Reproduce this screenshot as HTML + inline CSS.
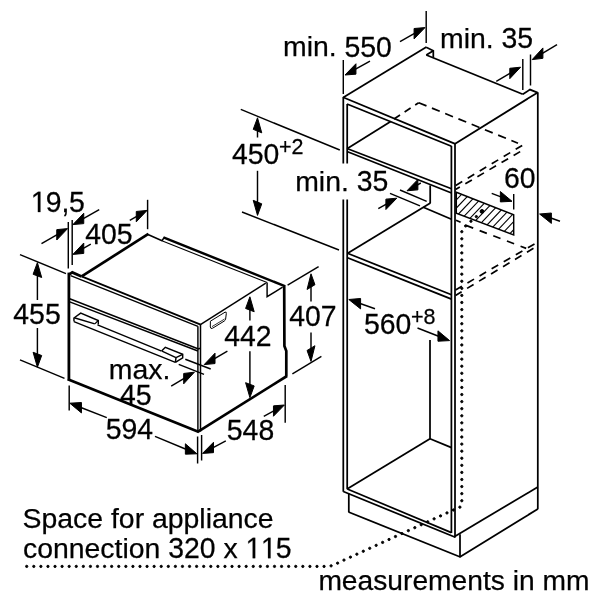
<!DOCTYPE html>
<html><head><meta charset="utf-8"><style>
html,body{margin:0;padding:0;background:#fff;}
svg{display:block;filter:grayscale(1);}
text{white-space:pre;font-family:"Liberation Sans",sans-serif;fill:#000;stroke:#000;stroke-width:0.25px;}
</style></head><body>
<svg width="600" height="600" viewBox="0 0 600 600">
<rect width="600" height="600" fill="#fff"/>
<g opacity="0.999"><path transform="translate(30.75,212.10) scale(0.01387,-0.01444)" d="M515 0V1237L197 1010V1180L530 1409H696V0Z" fill="#000" stroke="#000" stroke-width="0.25" vector-effect="non-scaling-stroke"/><text transform="translate(45.78,212.10) scale(1,1.041)" font-size="28.4">9</text><text transform="translate(61.58,212.10) scale(1,1.041)" font-size="28.4">,</text><text transform="translate(69.00,212.10) scale(1,1.041)" font-size="28.4">5</text><text transform="translate(85.20,243.80) scale(1,1.041)" font-size="28.4">4</text><text transform="translate(100.98,243.80) scale(1,1.041)" font-size="28.4">0</text><text transform="translate(116.78,243.80) scale(1,1.041)" font-size="28.4">5</text><text transform="translate(13.30,324.00) scale(1,1.041)" font-size="28.4">4</text><text transform="translate(29.08,324.00) scale(1,1.041)" font-size="28.4">5</text><text transform="translate(44.88,324.00) scale(1,1.041)" font-size="28.4">5</text><text transform="translate(289.20,325.60) scale(1,1.041)" font-size="28.4">4</text><text transform="translate(304.98,325.60) scale(1,1.041)" font-size="28.4">0</text><text transform="translate(320.78,325.60) scale(1,1.041)" font-size="28.4">7</text><text transform="translate(224.20,345.50) scale(1,1.041)" font-size="28.4">4</text><text transform="translate(239.98,345.50) scale(1,1.041)" font-size="28.4">4</text><text transform="translate(255.78,345.50) scale(1,1.041)" font-size="28.4">2</text><text x="108.75" y="378.70" font-size="28.4">max.</text><text transform="translate(120.00,404.50) scale(1,1.041)" font-size="28.4">4</text><text transform="translate(135.78,404.50) scale(1,1.041)" font-size="28.4">5</text><text transform="translate(105.75,439.00) scale(1,1.041)" font-size="28.4">5</text><text transform="translate(121.53,439.00) scale(1,1.041)" font-size="28.4">9</text><text transform="translate(137.33,439.00) scale(1,1.041)" font-size="28.4">4</text><text transform="translate(226.80,440.20) scale(1,1.041)" font-size="28.4">5</text><text transform="translate(242.58,440.20) scale(1,1.041)" font-size="28.4">4</text><text transform="translate(258.38,440.20) scale(1,1.041)" font-size="28.4">8</text><text x="283.00" y="56.40" font-size="28.4">min.</text><text transform="translate(344.54,56.50) scale(1,1.041)" font-size="28.4">5</text><text transform="translate(360.32,56.50) scale(1,1.041)" font-size="28.4">5</text><text transform="translate(376.12,56.50) scale(1,1.041)" font-size="28.4">0</text><text x="440.00" y="47.50" font-size="28.4">min.</text><text transform="translate(501.54,47.50) scale(1,1.041)" font-size="28.4">3</text><text transform="translate(517.32,47.50) scale(1,1.041)" font-size="28.4">5</text><text transform="translate(232.00,163.50) scale(1,1.041)" font-size="28.4">4</text><text transform="translate(247.78,163.50) scale(1,1.041)" font-size="28.4">5</text><text transform="translate(263.58,163.50) scale(1,1.041)" font-size="28.4">0</text><text x="295.20" y="191.30" font-size="28.4">min.</text><text transform="translate(356.74,191.30) scale(1,1.041)" font-size="28.4">3</text><text transform="translate(372.52,191.30) scale(1,1.041)" font-size="28.4">5</text><text transform="translate(504.00,188.00) scale(1,1.041)" font-size="28.4">6</text><text transform="translate(519.78,188.00) scale(1,1.041)" font-size="28.4">0</text><text transform="translate(364.00,333.50) scale(1,1.041)" font-size="28.4">5</text><text transform="translate(379.78,333.50) scale(1,1.041)" font-size="28.4">6</text><text transform="translate(395.58,333.50) scale(1,1.041)" font-size="28.4">0</text><text transform="translate(279.00,153.70) scale(1,1.041)" font-size="21.5">+</text><text transform="translate(291.55,153.70) scale(1,1.041)" font-size="21.5">2</text><text transform="translate(411.00,324.30) scale(1,1.041)" font-size="21.5">+</text><text transform="translate(423.55,324.30) scale(1,1.041)" font-size="21.5">8</text><text x="22.60" y="528.10" font-size="28.4">Space for appliance</text><text x="23.00" y="558.20" font-size="28.4">connection </text><text transform="translate(168.20,558.20) scale(1,1.041)" font-size="28.4">3</text><text transform="translate(184.00,558.20) scale(1,1.041)" font-size="28.4">2</text><text transform="translate(199.78,558.20) scale(1,1.041)" font-size="28.4">0</text><text x="215.58" y="558.20" font-size="28.4"> x </text><path transform="translate(245.55,558.20) scale(0.01387,-0.01444)" d="M515 0V1237L197 1010V1180L530 1409H696V0Z" fill="#000" stroke="#000" stroke-width="0.25" vector-effect="non-scaling-stroke"/><path transform="translate(260.88,558.20) scale(0.01387,-0.01444)" d="M515 0V1237L197 1010V1180L530 1409H696V0Z" fill="#000" stroke="#000" stroke-width="0.25" vector-effect="non-scaling-stroke"/><text transform="translate(275.82,558.20) scale(1,1.041)" font-size="28.4">5</text><text x="318.40" y="589.60" font-size="28.2">measurements in mm</text></g>
<g stroke="#000" fill="#000" stroke-linecap="butt">
<line x1="68.90" y1="272.60" x2="68.90" y2="380.50" stroke-width="2.8"/>
<line x1="67.80" y1="379.30" x2="198.30" y2="431.80" stroke-width="2.7"/>
<polyline points="68.40,275.00 72.30,272.40 81.60,276.40" fill="none" stroke-width="2.7"/>
<line x1="81.60" y1="276.40" x2="200.60" y2="324.60" stroke-width="1.7"/>
<line x1="70.60" y1="275.60" x2="197.90" y2="326.40" stroke-width="1.45"/>
<line x1="197.90" y1="326.20" x2="197.90" y2="431.50" stroke-width="1.45"/>
<line x1="200.50" y1="324.20" x2="200.50" y2="431.50" stroke-width="1.5"/>
<line x1="69.70" y1="298.70" x2="197.90" y2="348.80" stroke-width="1.45"/>
<line x1="69.70" y1="301.90" x2="197.90" y2="351.00" stroke-width="1.45"/>
<polyline points="197.90,349.00 200.50,348.20" fill="none" stroke-width="1.45"/>
<line x1="200.40" y1="324.60" x2="265.80" y2="283.20" stroke-width="1.45"/>
<polyline points="267.10,282.40 267.10,296.70 282.60,287.10" fill="none" stroke-width="1.45"/>
<polyline points="284.20,285.00 284.40,346.00 286.30,351.00 286.30,376.50" fill="none" stroke-width="2.7"/>
<line x1="287.00" y1="376.00" x2="197.30" y2="432.20" stroke-width="2.7"/>
<path d="M210.4,321.2 L225.0,312.2 Q226.6,311.4 226.3,313.6 L225.6,319.2 Q225.3,320.4 224.2,321.1 L212.6,328.2 Q210.6,329.3 210.3,327.0 Z" fill="none" stroke-width="1.0"/>
<line x1="212.00" y1="326.60" x2="224.60" y2="319.00" stroke-width="0.8"/>
<line x1="81.60" y1="276.40" x2="148.40" y2="233.90" stroke-width="2.7"/>
<polyline points="147.40,234.30 162.00,240.80 164.00,237.60" fill="none" stroke-width="1.6"/>
<line x1="163.40" y1="237.30" x2="284.80" y2="286.20" stroke-width="2.5"/>
<line x1="162.50" y1="241.10" x2="267.10" y2="282.60" stroke-width="1.1"/>
<polyline points="74.00,321.60 73.90,318.00 80.70,313.10 98.30,320.50 98.30,324.60" fill="none" stroke-width="1.45"/>
<line x1="74.20" y1="317.70" x2="94.80" y2="323.90" stroke-width="1.45"/>
<polyline points="94.80,323.90 98.30,320.50" fill="none" stroke-width="1.2"/>
<line x1="97.50" y1="324.90" x2="161.60" y2="351.10" stroke-width="1.45"/>
<line x1="73.90" y1="321.60" x2="175.40" y2="362.40" stroke-width="1.45"/>
<polyline points="161.60,351.10 165.30,347.30 182.70,354.30 182.70,357.90 175.40,362.40" fill="none" stroke-width="1.45"/>
<line x1="162.00" y1="351.20" x2="176.00" y2="357.70" stroke-width="1.45"/>
<line x1="176.00" y1="357.70" x2="182.70" y2="354.30" stroke-width="1.45"/>
<line x1="176.00" y1="357.70" x2="175.40" y2="362.40" stroke-width="1.45"/>
<line x1="68.30" y1="222.00" x2="68.30" y2="268.50" stroke-width="1.45"/>
<line x1="72.20" y1="220.00" x2="72.20" y2="265.00" stroke-width="1.45"/>
<line x1="41.50" y1="243.60" x2="58.50" y2="233.83" stroke-width="1.45"/>
<polygon points="67.60,228.60 56.76,240.03 56.76,229.63"/>
<line x1="99.20" y1="209.60" x2="82.02" y2="219.40" stroke-width="1.45"/>
<polygon points="72.90,224.60 83.76,223.61 83.76,213.21"/>
<line x1="90.80" y1="244.20" x2="82.02" y2="249.20" stroke-width="1.45"/>
<polygon points="72.90,254.40 83.76,253.41 83.76,243.01"/>
<line x1="129.80" y1="220.40" x2="138.01" y2="215.65" stroke-width="1.45"/>
<polygon points="147.10,210.40 136.28,221.86 136.28,211.46"/>
<line x1="147.60" y1="199.80" x2="147.60" y2="229.20" stroke-width="1.45"/>
<line x1="20.00" y1="254.60" x2="66.00" y2="273.60" stroke-width="1.45"/>
<line x1="20.00" y1="359.80" x2="64.50" y2="378.40" stroke-width="1.45"/>
<line x1="37.40" y1="300.00" x2="37.40" y2="273.90" stroke-width="1.45"/>
<polygon points="37.40,262.60 41.70,277.53 33.10,274.27"/>
<line x1="37.40" y1="328.00" x2="37.40" y2="355.90" stroke-width="1.45"/>
<polygon points="37.40,367.20 41.70,355.53 33.10,352.27"/>
<line x1="69.20" y1="385.50" x2="69.20" y2="410.50" stroke-width="1.45"/>
<line x1="197.60" y1="436.50" x2="197.60" y2="463.50" stroke-width="1.45"/>
<line x1="201.60" y1="435.00" x2="201.60" y2="460.50" stroke-width="1.45"/>
<line x1="106.80" y1="417.60" x2="79.59" y2="407.01" stroke-width="1.45"/>
<polygon points="69.80,403.20 81.45,412.93 81.45,402.53"/>
<line x1="155.00" y1="436.30" x2="187.21" y2="449.75" stroke-width="1.45"/>
<polygon points="196.90,453.80 185.37,454.18 185.37,443.78"/>
<line x1="225.80" y1="440.80" x2="211.74" y2="448.41" stroke-width="1.45"/>
<polygon points="202.50,453.40 213.50,452.65 213.50,442.25"/>
<line x1="263.80" y1="416.40" x2="275.21" y2="410.08" stroke-width="1.45"/>
<polygon points="284.40,405.00 273.46,416.25 273.46,405.85"/>
<line x1="285.20" y1="385.00" x2="285.20" y2="422.80" stroke-width="1.45"/>
<line x1="249.90" y1="320.50" x2="249.90" y2="308.10" stroke-width="1.45"/>
<polygon points="249.90,296.80 254.20,311.73 245.60,308.47"/>
<line x1="249.90" y1="351.20" x2="249.90" y2="386.30" stroke-width="1.45"/>
<polygon points="249.90,397.60 254.20,385.93 245.60,382.67"/>
<line x1="287.60" y1="285.20" x2="318.60" y2="266.60" stroke-width="1.45"/>
<line x1="292.40" y1="373.80" x2="321.40" y2="356.40" stroke-width="1.45"/>
<line x1="311.00" y1="301.50" x2="311.00" y2="285.10" stroke-width="1.45"/>
<polygon points="311.00,273.80 314.94,284.73 307.06,289.47"/>
<line x1="311.00" y1="332.50" x2="311.00" y2="350.10" stroke-width="1.45"/>
<polygon points="311.00,361.40 314.94,345.73 307.06,350.47"/>
<line x1="185.30" y1="359.30" x2="210.70" y2="369.00" stroke-width="1.45"/>
<line x1="178.70" y1="364.30" x2="204.00" y2="374.40" stroke-width="1.45"/>
<line x1="227.40" y1="351.20" x2="213.29" y2="359.35" stroke-width="1.45"/>
<polygon points="204.20,364.60 215.02,363.55 215.02,353.15"/>
<line x1="171.20" y1="386.20" x2="185.41" y2="377.62" stroke-width="1.45"/>
<polygon points="194.40,372.20 183.70,383.86 183.70,373.46"/>
<line x1="343.30" y1="97.00" x2="343.30" y2="163.50" stroke-width="1.75"/>
<line x1="343.30" y1="199.50" x2="343.30" y2="491.80" stroke-width="1.75"/>
<line x1="347.20" y1="104.00" x2="347.20" y2="163.50" stroke-width="1.75"/>
<line x1="347.20" y1="199.50" x2="347.20" y2="489.20" stroke-width="1.75"/>
<line x1="455.00" y1="143.30" x2="455.00" y2="537.60" stroke-width="1.75"/>
<line x1="451.40" y1="146.00" x2="451.40" y2="533.00" stroke-width="1.75"/>
<line x1="343.00" y1="97.30" x2="455.20" y2="143.90" stroke-width="1.75"/>
<line x1="347.00" y1="104.00" x2="451.50" y2="146.20" stroke-width="1.75"/>
<line x1="343.20" y1="97.60" x2="426.40" y2="47.10" stroke-width="1.75"/>
<polyline points="426.20,47.30 433.30,50.70 433.30,57.80" fill="none" stroke-width="1.75"/>
<line x1="433.30" y1="50.70" x2="426.30" y2="55.00" stroke-width="1.75"/>
<line x1="426.30" y1="55.00" x2="522.80" y2="94.20" stroke-width="1.75"/>
<polyline points="522.80,94.20 530.00,89.60 537.50,92.60" fill="none" stroke-width="1.75"/>
<line x1="537.80" y1="92.30" x2="537.80" y2="509.20" stroke-width="1.75"/>
<line x1="537.80" y1="92.40" x2="454.70" y2="143.90" stroke-width="1.75"/>
<line x1="347.00" y1="148.50" x2="451.50" y2="188.80" stroke-width="1.75"/>
<line x1="347.00" y1="151.50" x2="451.50" y2="193.00" stroke-width="1.75"/>
<line x1="347.00" y1="148.70" x2="390.70" y2="121.60" stroke-width="1.75"/>
<line x1="394.00" y1="119.00" x2="418.70" y2="102.70" stroke-width="1.7" stroke-dasharray="7.2,5.5" stroke-dashoffset="0"/>
<line x1="418.70" y1="102.70" x2="518.00" y2="143.20" stroke-width="1.7" stroke-dasharray="8.4,5.9" stroke-dashoffset="0"/>
<line x1="522.20" y1="145.40" x2="455.50" y2="185.60" stroke-width="1.7" stroke-dasharray="7.6,6.4" stroke-dashoffset="0"/>
<line x1="521.20" y1="151.00" x2="455.50" y2="189.60" stroke-width="1.7" stroke-dasharray="7.6,6.4" stroke-dashoffset="-1.2"/>
<line x1="430.20" y1="185.40" x2="430.20" y2="203.30" stroke-width="1.75"/>
<line x1="430.40" y1="203.00" x2="347.70" y2="253.20" stroke-width="1.75"/>
<line x1="423.30" y1="207.20" x2="451.50" y2="219.30" stroke-width="1.75"/>
<line x1="347.50" y1="253.30" x2="451.50" y2="294.80" stroke-width="1.75"/>
<line x1="347.50" y1="257.70" x2="451.50" y2="299.10" stroke-width="1.75"/>
<line x1="400.00" y1="190.00" x2="426.70" y2="201.30" stroke-width="1.45"/>
<line x1="390.00" y1="193.30" x2="420.00" y2="205.80" stroke-width="1.45"/>
<line x1="420.80" y1="183.00" x2="416.14" y2="185.63" stroke-width="1.45"/>
<polygon points="407.00,190.80 417.88,189.85 417.88,179.45"/>
<line x1="378.30" y1="208.60" x2="387.65" y2="203.35" stroke-width="1.45"/>
<polygon points="396.80,198.20 385.90,209.53 385.90,199.13"/>
<clipPath id="hc"><polygon points="456.3,192.3 513.7,214.7 513.7,235.0 456.3,213.3"/></clipPath>
<g clip-path="url(#hc)" stroke-width="1.1"><line x1="363.50" y1="240" x2="411.12" y2="190"/><line x1="371.30" y1="240" x2="418.92" y2="190"/><line x1="379.10" y1="240" x2="426.72" y2="190"/><line x1="386.90" y1="240" x2="434.52" y2="190"/><line x1="394.70" y1="240" x2="442.32" y2="190"/><line x1="402.50" y1="240" x2="450.12" y2="190"/><line x1="410.30" y1="240" x2="457.92" y2="190"/><line x1="418.10" y1="240" x2="465.72" y2="190"/><line x1="425.90" y1="240" x2="473.52" y2="190"/><line x1="433.70" y1="240" x2="481.32" y2="190"/><line x1="441.50" y1="240" x2="489.12" y2="190"/><line x1="449.30" y1="240" x2="496.92" y2="190"/><line x1="457.10" y1="240" x2="504.72" y2="190"/><line x1="464.90" y1="240" x2="512.52" y2="190"/><line x1="472.70" y1="240" x2="520.32" y2="190"/><line x1="480.50" y1="240" x2="528.12" y2="190"/><line x1="488.30" y1="240" x2="535.92" y2="190"/><line x1="496.10" y1="240" x2="543.72" y2="190"/><line x1="503.90" y1="240" x2="551.52" y2="190"/><line x1="511.70" y1="240" x2="559.32" y2="190"/><line x1="519.50" y1="240" x2="567.12" y2="190"/><line x1="527.30" y1="240" x2="574.92" y2="190"/><line x1="535.10" y1="240" x2="582.72" y2="190"/><line x1="542.90" y1="240" x2="590.52" y2="190"/><line x1="550.70" y1="240" x2="598.32" y2="190"/><line x1="558.50" y1="240" x2="606.12" y2="190"/><line x1="566.30" y1="240" x2="613.92" y2="190"/><line x1="574.10" y1="240" x2="621.72" y2="190"/><line x1="581.90" y1="240" x2="629.52" y2="190"/><line x1="589.70" y1="240" x2="637.32" y2="190"/></g>
<polygon points="456.3,192.3 513.7,214.7 513.7,235.0 456.3,213.3" fill="none" stroke-width="1.45"/>
<line x1="513.70" y1="194.00" x2="513.70" y2="209.50" stroke-width="1.45"/>
<line x1="491.70" y1="193.30" x2="502.23" y2="197.45" stroke-width="1.45"/>
<polygon points="512.00,201.30 500.37,201.92 500.37,191.52"/>
<line x1="560.00" y1="221.30" x2="549.49" y2="217.54" stroke-width="1.45"/>
<polygon points="539.60,214.00 551.37,223.41 551.37,213.01"/>
<line x1="466.00" y1="225.40" x2="526.20" y2="248.40" stroke-width="1.7" stroke-dasharray="7.7,6.9" stroke-dashoffset="0"/>
<line x1="534.50" y1="243.90" x2="455.50" y2="289.90" stroke-width="1.7" stroke-dasharray="7.6,6.4" stroke-dashoffset="0"/>
<line x1="534.50" y1="247.60" x2="455.50" y2="295.40" stroke-width="1.7" stroke-dasharray="7.6,6.4" stroke-dashoffset="-1.2"/>
<line x1="456.00" y1="220.30" x2="461.00" y2="222.40" stroke-width="1.7" stroke-dasharray="5,10" stroke-dashoffset="0"/>
<line x1="430.00" y1="340.00" x2="430.00" y2="439.00" stroke-width="1.75"/>
<line x1="347.50" y1="488.80" x2="430.00" y2="438.80" stroke-width="1.75"/>
<line x1="430.00" y1="438.80" x2="451.50" y2="447.60" stroke-width="1.75"/>
<line x1="343.30" y1="491.50" x2="455.30" y2="537.30" stroke-width="1.75"/>
<line x1="347.30" y1="489.00" x2="451.40" y2="532.60" stroke-width="1.75"/>
<line x1="348.80" y1="493.50" x2="348.80" y2="512.20" stroke-width="1.75"/>
<line x1="348.50" y1="512.00" x2="460.30" y2="557.00" stroke-width="1.75"/>
<line x1="460.00" y1="534.20" x2="460.00" y2="557.20" stroke-width="1.75"/>
<line x1="459.80" y1="557.00" x2="537.80" y2="509.00" stroke-width="1.75"/>
<line x1="454.70" y1="536.40" x2="537.80" y2="487.00" stroke-width="1.75"/>
<line x1="375.00" y1="308.80" x2="358.70" y2="303.01" stroke-width="1.45"/>
<polygon points="348.80,299.50 360.58,308.88 360.58,298.48"/>
<line x1="417.50" y1="328.00" x2="439.83" y2="336.76" stroke-width="1.45"/>
<polygon points="449.60,340.60 437.96,341.23 437.96,330.83"/>
<line x1="343.30" y1="60.00" x2="343.30" y2="94.00" stroke-width="1.45"/>
<line x1="370.00" y1="61.20" x2="354.19" y2="69.93" stroke-width="1.45"/>
<polygon points="345.00,75.00 355.94,74.16 355.94,63.76"/>
<line x1="400.00" y1="41.60" x2="415.84" y2="32.73" stroke-width="1.45"/>
<polygon points="425.00,27.60 414.09,38.91 414.09,28.51"/>
<line x1="426.20" y1="11.00" x2="426.20" y2="43.00" stroke-width="1.45"/>
<line x1="522.80" y1="59.00" x2="522.80" y2="90.00" stroke-width="1.45"/>
<line x1="530.50" y1="54.50" x2="530.50" y2="85.50" stroke-width="1.45"/>
<line x1="496.30" y1="81.30" x2="511.52" y2="72.47" stroke-width="1.45"/>
<polygon points="520.60,67.20 509.79,78.67 509.79,68.27"/>
<line x1="557.00" y1="44.60" x2="541.18" y2="54.17" stroke-width="1.45"/>
<polygon points="532.20,59.60 542.90,58.33 542.90,47.93"/>
<line x1="240.80" y1="109.40" x2="339.80" y2="150.00" stroke-width="1.45"/>
<line x1="242.00" y1="212.00" x2="339.00" y2="250.00" stroke-width="1.45"/>
<line x1="257.50" y1="137.50" x2="257.50" y2="129.10" stroke-width="1.45"/>
<polygon points="257.50,117.80 261.76,132.85 253.24,129.35"/>
<line x1="257.50" y1="170.80" x2="257.50" y2="204.10" stroke-width="1.45"/>
<polygon points="257.50,215.40 261.76,203.85 253.24,200.35"/>
<circle cx="26.70" cy="566.40" r="1.15"/>
<circle cx="33.78" cy="566.40" r="1.15"/>
<circle cx="40.86" cy="566.40" r="1.15"/>
<circle cx="47.94" cy="566.40" r="1.15"/>
<circle cx="55.02" cy="566.40" r="1.15"/>
<circle cx="62.10" cy="566.40" r="1.15"/>
<circle cx="69.18" cy="566.40" r="1.15"/>
<circle cx="76.26" cy="566.40" r="1.15"/>
<circle cx="83.34" cy="566.40" r="1.15"/>
<circle cx="90.42" cy="566.40" r="1.15"/>
<circle cx="97.50" cy="566.40" r="1.15"/>
<circle cx="104.58" cy="566.40" r="1.15"/>
<circle cx="111.66" cy="566.40" r="1.15"/>
<circle cx="118.74" cy="566.40" r="1.15"/>
<circle cx="125.82" cy="566.40" r="1.15"/>
<circle cx="132.90" cy="566.40" r="1.15"/>
<circle cx="139.98" cy="566.40" r="1.15"/>
<circle cx="147.06" cy="566.40" r="1.15"/>
<circle cx="154.14" cy="566.40" r="1.15"/>
<circle cx="161.22" cy="566.40" r="1.15"/>
<circle cx="168.30" cy="566.40" r="1.15"/>
<circle cx="175.38" cy="566.40" r="1.15"/>
<circle cx="182.46" cy="566.40" r="1.15"/>
<circle cx="189.54" cy="566.40" r="1.15"/>
<circle cx="196.62" cy="566.40" r="1.15"/>
<circle cx="203.70" cy="566.40" r="1.15"/>
<circle cx="210.78" cy="566.40" r="1.15"/>
<circle cx="217.86" cy="566.40" r="1.15"/>
<circle cx="224.94" cy="566.40" r="1.15"/>
<circle cx="232.02" cy="566.40" r="1.15"/>
<circle cx="239.10" cy="566.40" r="1.15"/>
<circle cx="246.18" cy="566.40" r="1.15"/>
<circle cx="253.26" cy="566.40" r="1.15"/>
<circle cx="260.34" cy="566.40" r="1.15"/>
<circle cx="267.42" cy="566.40" r="1.15"/>
<circle cx="274.50" cy="566.40" r="1.15"/>
<circle cx="281.58" cy="566.40" r="1.15"/>
<circle cx="288.66" cy="566.40" r="1.15"/>
<circle cx="295.74" cy="566.40" r="1.15"/>
<circle cx="302.82" cy="566.40" r="1.15"/>
<circle cx="309.90" cy="566.40" r="1.15"/>
<circle cx="316.98" cy="566.40" r="1.15"/>
<circle cx="324.06" cy="566.40" r="1.15"/>
<circle cx="331.10" cy="565.85" r="1.15"/>
<circle cx="337.61" cy="563.16" r="1.15"/>
<circle cx="343.98" cy="560.09" r="1.15"/>
<circle cx="350.42" cy="557.14" r="1.15"/>
<circle cx="356.86" cy="554.20" r="1.15"/>
<circle cx="363.30" cy="551.25" r="1.15"/>
<circle cx="369.73" cy="548.30" r="1.15"/>
<circle cx="376.17" cy="545.36" r="1.15"/>
<circle cx="382.61" cy="542.41" r="1.15"/>
<circle cx="389.05" cy="539.46" r="1.15"/>
<circle cx="395.48" cy="536.52" r="1.15"/>
<circle cx="401.92" cy="533.57" r="1.15"/>
<circle cx="408.36" cy="530.62" r="1.15"/>
<circle cx="414.80" cy="527.68" r="1.15"/>
<circle cx="421.23" cy="524.73" r="1.15"/>
<circle cx="427.67" cy="521.78" r="1.15"/>
<circle cx="434.11" cy="518.84" r="1.15"/>
<circle cx="440.55" cy="515.89" r="1.15"/>
<circle cx="446.98" cy="512.94" r="1.15"/>
<circle cx="453.42" cy="510.00" r="1.15"/>
<circle cx="459.89" cy="507.14" r="1.15"/>
<circle cx="461.80" cy="500.74" r="1.15"/>
<circle cx="461.80" cy="493.66" r="1.15"/>
<circle cx="461.80" cy="486.58" r="1.15"/>
<circle cx="461.80" cy="479.50" r="1.15"/>
<circle cx="461.80" cy="472.42" r="1.15"/>
<circle cx="461.80" cy="465.34" r="1.15"/>
<circle cx="461.80" cy="458.26" r="1.15"/>
<circle cx="461.80" cy="451.18" r="1.15"/>
<circle cx="461.80" cy="444.10" r="1.15"/>
<circle cx="461.80" cy="437.02" r="1.15"/>
<circle cx="461.80" cy="429.94" r="1.15"/>
<circle cx="461.80" cy="422.86" r="1.15"/>
<circle cx="461.80" cy="415.78" r="1.15"/>
<circle cx="461.80" cy="408.70" r="1.15"/>
<circle cx="461.80" cy="401.62" r="1.15"/>
<circle cx="461.80" cy="394.54" r="1.15"/>
<circle cx="461.80" cy="387.46" r="1.15"/>
<circle cx="461.80" cy="380.38" r="1.15"/>
<circle cx="461.80" cy="373.30" r="1.15"/>
<circle cx="461.80" cy="366.22" r="1.15"/>
<circle cx="461.80" cy="359.14" r="1.15"/>
<circle cx="461.80" cy="352.06" r="1.15"/>
<circle cx="461.80" cy="344.98" r="1.15"/>
<circle cx="461.80" cy="337.90" r="1.15"/>
<circle cx="461.80" cy="330.82" r="1.15"/>
<circle cx="461.80" cy="323.74" r="1.15"/>
<circle cx="461.80" cy="316.66" r="1.15"/>
<circle cx="461.80" cy="309.58" r="1.15"/>
<circle cx="461.80" cy="302.50" r="1.15"/>
<circle cx="461.80" cy="295.42" r="1.15"/>
<circle cx="461.80" cy="288.34" r="1.15"/>
<circle cx="461.80" cy="281.26" r="1.15"/>
<circle cx="461.80" cy="274.18" r="1.15"/>
<circle cx="461.80" cy="267.10" r="1.15"/>
<circle cx="461.80" cy="260.02" r="1.15"/>
<circle cx="461.80" cy="252.94" r="1.15"/>
<circle cx="461.80" cy="245.86" r="1.15"/>
<circle cx="461.80" cy="238.78" r="1.15"/>
<circle cx="461.80" cy="231.70" r="1.15"/>
<circle cx="465.67" cy="225.93" r="1.15"/>
<circle cx="470.96" cy="221.23" r="1.15"/>
<circle cx="476.33" cy="216.62" r="1.15"/>
<circle cx="482.0" cy="211.4" r="1.9"/>
</g>
</svg>
</body></html>
